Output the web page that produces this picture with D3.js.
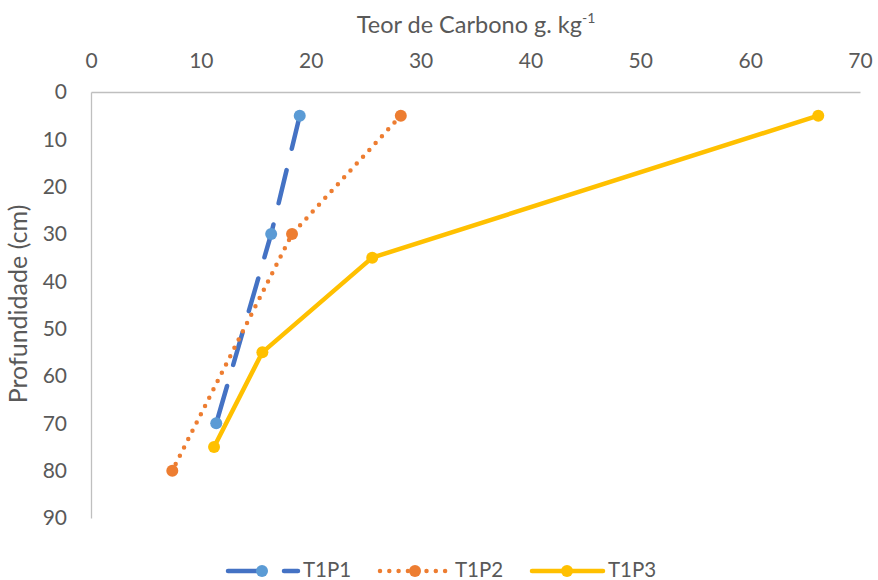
<!DOCTYPE html>
<html><head><meta charset="utf-8">
<script src="https://cdn.jsdelivr.net/npm/d3@7"></script>
<style>body{margin:0;background:#fff}svg{display:block}text{font-family:Lato,"Open Sans",sans-serif;fill:#595959}</style>
</head><body><svg id="c" width="878" height="580"></svg>
<script>
const xTicks=[0,10,20,30,40,50,60,70];
const yTicks=[0,10,20,30,40,50,60,70,80,90];
const seriesNames=["T1P1","T1P2","T1P3"];
const t1p1Carbon=[19.0,16.4,11.4];
const t1p1Depth=[5,30,70];
const t1p2Carbon=[28.2,18.3,7.4];
const t1p2Depth=[5,30,80];
const t1p3Carbon=[66.2,25.6,15.6,11.2];
const t1p3Depth=[5,35,55,75];

const svg=d3.select("#c");
const x=d3.scaleLinear().domain([0,70]).range([91,860]);
const y=d3.scaleLinear().domain([0,90]).range([92,518]);

const series=[
 {name:seriesNames[0],c:t1p1Carbon,d:t1p1Depth,line:"#4472C4",mark:"#5B9BD5",dash:"34,22"},
 {name:seriesNames[1],c:t1p2Carbon,d:t1p2Depth,line:"#ED7D31",mark:"#ED7D31",dash:"0,9.3"},
 {name:seriesNames[2],c:t1p3Carbon,d:t1p3Depth,line:"#FFC000",mark:"#FFC000",dash:null}
];
const FF="Lato,'Open Sans',sans-serif";

// axes
const xa=svg.append("g").attr("transform","translate(0,92)").call(d3.axisTop(x).tickValues(xTicks).tickSize(0).tickPadding(24));
xa.select(".domain").attr("stroke","#BFBFBF").attr("stroke-width",1.3);
xa.selectAll("text").attr("font-size",21).style("font-family",FF).attr("fill","#595959");
const ya=svg.append("g").attr("transform","translate(91,0)").call(d3.axisLeft(y).tickValues(yTicks).tickSize(0).tickPadding(24));
ya.select(".domain").attr("stroke","#BFBFBF").attr("stroke-width",1.3);
ya.selectAll("text").attr("font-size",21).style("font-family",FF).attr("fill","#595959");

// titles
const t=svg.append("text").attr("x",476).attr("y",33).attr("text-anchor","middle").attr("font-size",23.5);
t.append("tspan").text("Teor de Carbono g. kg");
t.append("tspan").attr("font-size",14).attr("dy",-10).text("-1");
svg.append("text").attr("transform","translate(27,304) rotate(-90)").attr("text-anchor","middle").attr("font-size",25).text("Profundidade (cm)");

const line=d3.line().x(p=>x(p[0])).y(p=>y(p[1]));
series.forEach(s=>{
  const pts=s.c.map((v,i)=>[v,s.d[i]]);
  svg.append("path").datum(pts).attr("d",line).attr("fill","none").attr("stroke",s.line)
    .attr("stroke-width",4.5).attr("stroke-linecap","round").attr("stroke-linejoin","round")
    .attr("stroke-dasharray",s.dash);
  svg.selectAll(null).data(pts).enter().append("circle").attr("cx",p=>x(p[0])).attr("cy",p=>y(p[1]))
    .attr("r",6).attr("fill",s.mark);
});

// legend
const leg=[{x0:228,x1:298,mx:262,tx:303},{x0:380,x1:448,mx:415,tx:455},{x0:532,x1:603,mx:567,tx:608}];
series.forEach((s,i)=>{
  const L=leg[i], ly=571;
  svg.append("line").attr("x1",L.x0).attr("x2",L.x1).attr("y1",ly).attr("y2",ly).attr("stroke",s.line)
    .attr("stroke-width",4.5).attr("stroke-linecap","round").attr("stroke-dasharray",s.dash);
  svg.append("circle").attr("cx",L.mx).attr("cy",ly).attr("r",6).attr("fill",s.mark);
  svg.append("text").attr("x",L.tx).attr("y",577).attr("font-size",20.5).text(s.name);
});
</script></body></html>
